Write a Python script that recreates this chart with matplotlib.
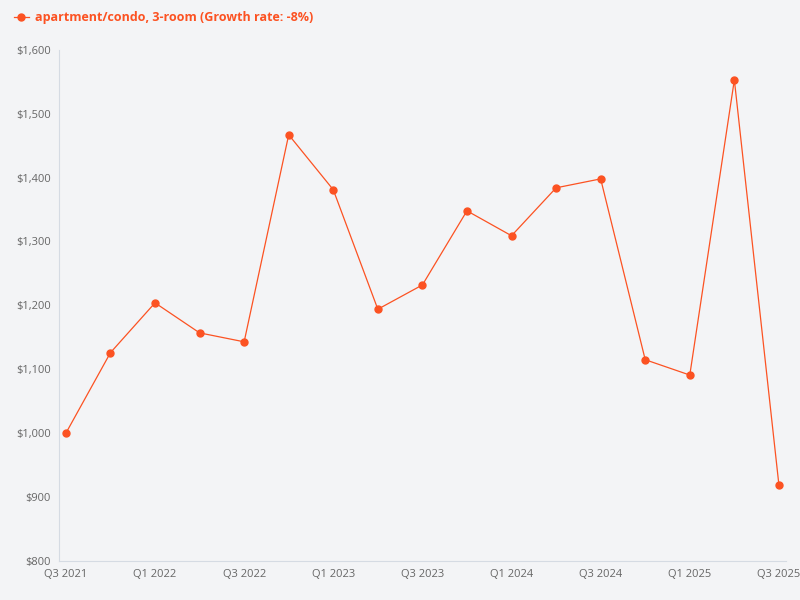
import matplotlib
matplotlib.use("Agg")
import matplotlib.pyplot as plt
from matplotlib.ticker import FuncFormatter

quarters = ["Q3 2021","Q4 2021","Q1 2022","Q2 2022","Q3 2022","Q4 2022","Q1 2023","Q2 2023",
            "Q3 2023","Q4 2023","Q1 2024","Q2 2024","Q3 2024","Q4 2024","Q1 2025","Q2 2025","Q3 2025"]
prices = [1000,1126,1204,1157,1143,1467,1381,1194,1232,1348,1309,1384,1398,1115,1091,1553,919]
series_label = "apartment/condo, 3-room (Growth rate: -8%)"

color = "#fc5222"
bg = "#f3f4f6"
plt.rcParams['font.family'] = ['Open Sans', 'DejaVu Sans']

fig = plt.figure(figsize=(8, 6), dpi=100, facecolor=bg)
ax = fig.add_axes([0.074, 0.065, 0.908, 0.852], facecolor=bg)
x = list(range(len(quarters)))
ax.plot(x, prices, color=color, lw=0.9, marker='o', ms=5, label=series_label)
ax.set_xlim(-0.15, len(quarters) - 1 + 0.15)
ax.set_ylim(800, 1600)
ax.set_yticks(range(800, 1601, 100))
ax.yaxis.set_major_formatter(FuncFormatter(lambda v, p: f"${v:,.0f}"))
ax.set_xticks(x[::2])
ax.set_xticklabels(quarters[::2])
ax.tick_params(labelsize=8, colors="#666666", length=0, pad=6)
for s in ["top", "right"]:
    ax.spines[s].set_visible(False)
for s in ["left", "bottom"]:
    ax.spines[s].set_color("#d5dbe3")
    ax.spines[s].set_linewidth(0.8)
leg = fig.legend(loc="upper left", bbox_to_anchor=(0.003, 1.0), frameon=False,
                 handlelength=1.2, handletextpad=0.5, fontsize=9)
for t in leg.get_texts():
    t.set_color(color)
    t.set_fontweight("bold")
fig.savefig("out.png", dpi=100, facecolor=bg)
